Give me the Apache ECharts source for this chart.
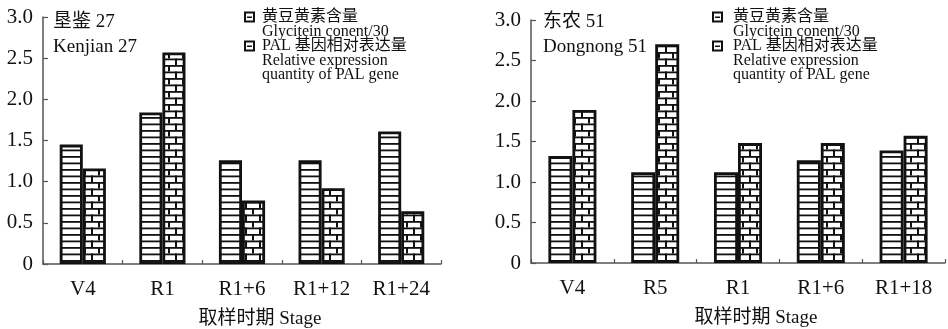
<!DOCTYPE html>
<html>
<head>
<meta charset="utf-8">
<script src="https://cdn.jsdelivr.net/npm/echarts@6/dist/echarts.min.js"></script>
<style>
html,body{margin:0;padding:0;background:#fff;}
#chart{width:948px;height:329px;}
</style>
</head>
<body>
<div id="chart"></div>
<script>
// ---- data ----
const categoriesLeft = ['V4', 'R1', 'R1+6', 'R1+12', 'R1+24'];
const glyciteinLeft = [1.45, 1.84, 1.26, 1.26, 1.61];
const palLeft = [1.16, 2.57, 0.77, 0.92, 0.64];

const categoriesRight = ['V4', 'R5', 'R1', 'R1+6', 'R1+18'];
const glyciteinRight = [1.32, 1.12, 1.12, 1.27, 1.39];
const palRight = [1.89, 2.70, 1.48, 1.48, 1.57];

const yTicks = [0, 0.5, 1.0, 1.5, 2.0, 2.5, 3.0];
const titleLeft = ['垦鉴 27', 'Kenjian 27'];
const titleRight = ['东农 51', 'Dongnong 51'];
const legendLines = [
  ['黄豆黄素含量', 'Glycitein conent/30'],
  ['PAL 基因相对表达量', 'Relative expression', 'quantity of PAL gene']
];
const axisName = '取样时期 Stage';

// ---- patterns ----
function stripePattern() {
  const c = document.createElement('canvas');
  c.width = 8; c.height = 13;
  const g = c.getContext('2d');
  g.fillStyle = '#fff'; g.fillRect(0, 0, 8, 13);
  g.fillStyle = '#111';
  g.fillRect(0, 0, 8, 1.8);
  g.fillRect(0, 6.5, 8, 1.8);
  return c;
}
function brickPattern() {
  const c = document.createElement('canvas');
  c.width = 14; c.height = 13;
  const g = c.getContext('2d');
  g.fillStyle = '#fff'; g.fillRect(0, 0, 14, 13);
  g.fillStyle = '#111';
  g.fillRect(0, 0, 14, 1.8);
  g.fillRect(0, 6.5, 14, 1.8);
  g.fillRect(0, 0, 2, 6.5);
  g.fillRect(7, 6.5, 2, 6.5);
  return c;
}
const stripeFill = { image: stripePattern(), repeat: 'repeat' };
const brickFill = { image: brickPattern(), repeat: 'repeat' };

const FONT = "'Liberation Serif', 'Noto Sans CJK SC', serif";

function yAxis(gi) {
  return {
    gridIndex: gi, type: 'value', min: 0, max: 3, interval: 0.5,
    axisLine: { show: true, lineStyle: { color: '#555', width: 1.5 } },
    axisTick: { show: true, inside: true, length: 5, lineStyle: { color: '#555', width: 1.2 } },
    splitLine: { show: false },
    axisLabel: {
      fontFamily: FONT, fontSize: 21, color: '#111', margin: 10,
      formatter: v => (v === 0 ? '0' : v.toFixed(1))
    }
  };
}
function xAxis(gi, cats) {
  return {
    gridIndex: gi, type: 'category', data: cats,
    axisLine: { show: true, lineStyle: { color: '#555', width: 1.5 } },
    axisTick: { show: true, inside: true, length: 4, alignWithLabel: false, lineStyle: { color: '#555', width: 1.2 } },
    axisLabel: { fontFamily: FONT, fontSize: 21, color: '#111', margin: 15 },
    name: axisName, nameLocation: 'middle', nameGap: 46,
    nameTextStyle: { fontFamily: FONT, fontSize: 19, color: '#111', padding: [0, 0, 0, 36] }
  };
}
function bar(name, data, gi, fill) {
  return {
    name, type: 'bar', data, xAxisIndex: gi, yAxisIndex: gi,
    barGap: 0, barCategoryGap: '42%',
    itemStyle: { color: fill, borderColor: '#111', borderWidth: 2.8 },
    emphasis: { disabled: true }, animation: false
  };
}

function legendGraphics(iconX, textX, topY) {
  const els = [];
  const lineH = 14.5;
  let y = topY;
  legendLines.forEach((lines, i) => {
    els.push({ type: 'rect', shape: { x: iconX, y: y - 4.5, width: 9, height: 9 },
      style: { fill: '#fff', stroke: '#111', lineWidth: 2 } });
    els.push({ type: 'rect', shape: { x: iconX + 2, y: y - 0.5, width: 5, height: 1.5 },
      style: { fill: '#111' } });
    lines.forEach((t, j) => {
      els.push({ type: 'text', x: textX, y: y + j * lineH,
        style: { text: t, fontSize: 16, fontFamily: FONT, fill: '#111', verticalAlign: 'middle' } });
    });
    y += lines.length * lineH;
  });
  return els;
}
function titleGraphics(x, lines) {
  return lines.map((t, j) => ({ type: 'text', x: x, y: 22 + j * 25,
    style: { text: t, fontSize: 19, fontFamily: FONT, fill: '#111', verticalAlign: 'middle' } }));
}

const chart = echarts.init(document.getElementById('chart'), null, { renderer: 'canvas' });
chart.setOption({
  animation: false,
  grid: [
    { left: 43, top: 17, width: 398, height: 247, containLabel: false, outerBoundsMode: 'none' },
    { left: 531, top: 20, width: 414, height: 243, containLabel: false, outerBoundsMode: 'none' }
  ],
  xAxis: [xAxis(0, categoriesLeft), xAxis(1, categoriesRight)],
  yAxis: [yAxis(0), yAxis(1)],
  series: [
    bar('黄豆黄素含量', glyciteinLeft, 0, stripeFill),
    bar('PAL 基因相对表达量', palLeft, 0, brickFill),
    bar('黄豆黄素含量', glyciteinRight, 1, stripeFill),
    bar('PAL 基因相对表达量', palRight, 1, brickFill)
  ],
  graphic: [].concat(
    titleGraphics(53, titleLeft),
    titleGraphics(543, titleRight),
    legendGraphics(245, 262, 17),
    legendGraphics(713, 733, 17)
  )
});
</script>
</body>
</html>
